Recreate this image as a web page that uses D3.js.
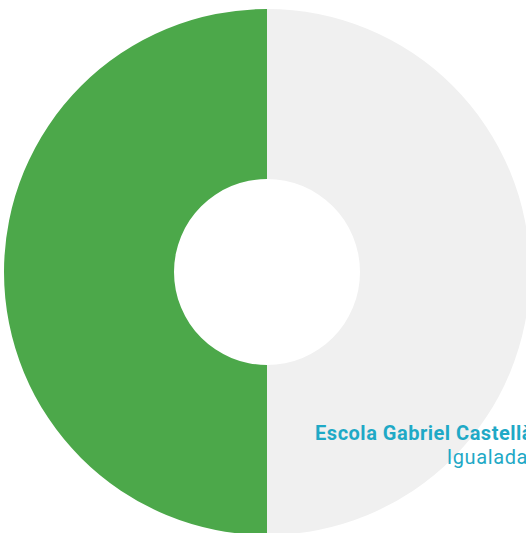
<!DOCTYPE html>
<html>
<head>
<meta charset="utf-8">
<script src="https://cdn.jsdelivr.net/npm/d3@7"></script>
<style>
  body { margin: 0; background: #fff; }
  svg { display: block; }
</style>
</head>
<body>
<div id="chart"></div>
<script>
const width = 526;
const height = 533;

// two slices, clockwise from the top
const labels = ["resta", "Escola Gabriel Castellà"];
const values = [50, 50];
const colors = ["#f0f0f0", "#4ca84a"];

const school = "Escola Gabriel Castellà";
const town = "Igualada";

const svg = d3.select("#chart")
    .append("svg")
    .attr("width", width)
    .attr("height", height);

const pie = d3.pie().sort(null).value(d => d);
const arc = d3.arc().innerRadius(93).outerRadius(263);

const g = svg.append("g")
    .attr("transform", "translate(267,272)");

g.selectAll("path")
    .data(pie(values))
    .join("path")
        .attr("d", arc)
        .attr("fill", (d, i) => colors[i]);

svg.append("text")
    .attr("x", 533)
    .attr("y", 440)
    .attr("text-anchor", "end")
    .attr("font-family", "Roboto, 'Open Sans', sans-serif")
    .attr("font-weight", "bold")
    .attr("font-size", "20px")
    .attr("letter-spacing", "0.5px")
    .attr("fill", "#1fa9c6")
    .text(school);

svg.append("text")
    .attr("x", 528)
    .attr("y", 464)
    .attr("text-anchor", "end")
    .attr("font-family", "Roboto, 'Open Sans', sans-serif")
    .attr("font-size", "20px")
    .attr("letter-spacing", "0.6px")
    .attr("fill", "#1fa9c6")
    .text(town);
</script>
</body>
</html>
